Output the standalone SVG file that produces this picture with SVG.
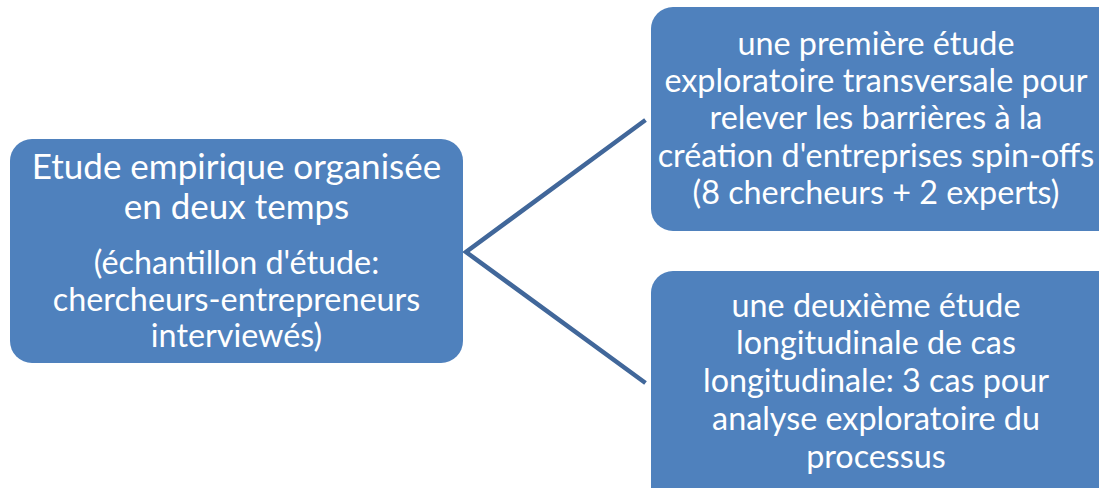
<svg xmlns="http://www.w3.org/2000/svg" width="1099" height="488" viewBox="0 0 1099 488">
<style>
.box{fill:#4f81bd;}
.t{font-family:Lato,"Open Sans","Liberation Sans",sans-serif;fill:#ffffff;text-anchor:middle;}
.big{font-size:35px;}
.med{font-size:32.3px;}
.conn{stroke:#41679a;stroke-width:4.5;fill:none;}
</style>
<rect width="1099" height="488" fill="#ffffff"/>
<g id="connectors">
<path class="conn" d="M645.5,120 L466,252 L645.5,383"/>
</g>
<g id="node-left">
<rect class="box" x="10" y="139" width="453" height="224" rx="22"/>
<text class="t big" x="236.5" y="179">Etude empirique organisée</text>
<text class="t big" x="236.5" y="219">en deux temps</text>
<text class="t med" x="236.5" y="274">(échantillon d'étude:</text>
<text class="t med" x="236.5" y="311">chercheurs-entrepreneurs</text>
<text class="t med" x="236.5" y="347">interviewés)</text>
</g>
<g id="node-top">
<rect class="box" x="651" y="7" width="468" height="224" rx="22"/>
<text class="t med" x="876" y="55">une première étude</text>
<text class="t med" x="876" y="92">exploratoire transversale pour</text>
<text class="t med" x="876" y="129">relever les barrières à la</text>
<text class="t med" x="876" y="167">création d'entreprises spin-offs</text>
<text class="t med" x="876" y="204">(8 chercheurs + 2 experts)</text>
</g>
<g id="node-bottom">
<rect class="box" x="651" y="271" width="468" height="240" rx="22"/>
<text class="t med" x="876" y="317">une deuxième étude</text>
<text class="t med" x="876" y="354">longitudinale de cas</text>
<text class="t med" x="876" y="392">longitudinale: 3 cas pour</text>
<text class="t med" x="876" y="430">analyse exploratoire du</text>
<text class="t med" x="876" y="468">processus</text>
</g>
</svg>
